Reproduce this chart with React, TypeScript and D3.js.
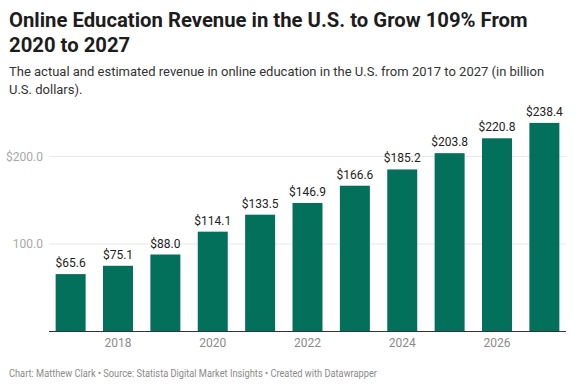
import React from "react";
import * as d3 from "d3";

const years = ["2017", "2018", "2019", "2020", "2021", "2022", "2023", "2024", "2025", "2026", "2027"];
const revenue = [65.6, 75.1, 88.0, 114.1, 133.5, 146.9, 166.6, 185.2, 203.8, 220.8, 238.4];
const yTicks = [100, 200];
const xTickLabels = ["2018", "2020", "2022", "2024", "2026"];

const W = 575;
const H = 390;
const margin = { left: 49, right: 9, top: 0 };
const baseY = 331.5;

const App = () => {
  const x = d3
    .scaleBand<string>()
    .domain(years)
    .range([margin.left, W - margin.right])
    .paddingInner(0.367)
    .paddingOuter(0.14);

  const y = d3.scaleLinear().domain([0, 200]).range([baseY, 156.5]);

  const font = "Roboto, 'Noto Sans', sans-serif";

  return (
    <svg
      width={W}
      height={H}
      style={{ position: "absolute", left: 0, top: 0, background: "#fff" }}
      fontFamily={font}
    >
      <text x={9} y={27} fontSize={20.3} fontWeight={700} fill="#1d1d1d">
        Online Education Revenue in the U.S. to Grow 109% From
      </text>
      <text x={9} y={52} fontSize={20.3} fontWeight={700} fill="#1d1d1d">
        2020 to 2027
      </text>
      <text x={9} y={76} fontSize={13} fill="#333">
        The actual and estimated revenue in online education in the U.S. from 2017 to 2027 (in billion
      </text>
      <text x={9} y={94} fontSize={13} fill="#333">
        U.S. dollars).
      </text>

      {yTicks.map((t) => (
        <g key={t}>
          <line
            x1={margin.left}
            x2={W - margin.right}
            y1={y(t)}
            y2={y(t)}
            stroke="#e8e8e8"
            strokeWidth={1}
          />
          <text
            x={43}
            y={y(t) + 4}
            textAnchor="end"
            fontSize={12}
            fill="#a8a8a8"
          >
            {t === 200 ? `$${t.toFixed(1)}` : t.toFixed(1)}
          </text>
        </g>
      ))}

      {years.map((yr, i) => (
        <g key={yr}>
          <rect
            x={x(yr)}
            y={y(revenue[i])}
            width={x.bandwidth()}
            height={baseY - y(revenue[i])}
            fill="#02705a"
          />
          <text
            x={(x(yr) as number) + x.bandwidth() / 2}
            y={y(revenue[i]) - 7}
            textAnchor="middle"
            fontSize={12}
            fill="#222"
          >
            ${revenue[i].toFixed(1)}
          </text>
        </g>
      ))}

      <line
        x1={margin.left}
        x2={W - margin.right}
        y1={baseY}
        y2={baseY}
        stroke="#333"
        strokeWidth={1}
      />

      {xTickLabels.map((t) => (
        <text
          key={t}
          x={(x(t) as number) + x.bandwidth() / 2}
          y={347}
          textAnchor="middle"
          fontSize={12}
          fill="#8a8a8a"
        >
          {t}
        </text>
      ))}

      <text
        x={9}
        y={377}
        fontSize={10}
        fill="#8a8a8a"
        textLength={368}
        lengthAdjust="spacingAndGlyphs"
      >
        Chart: Matthew Clark • Source: Statista Digital Market Insights • Created with Datawrapper
      </text>
    </svg>
  );
};

export default App;
